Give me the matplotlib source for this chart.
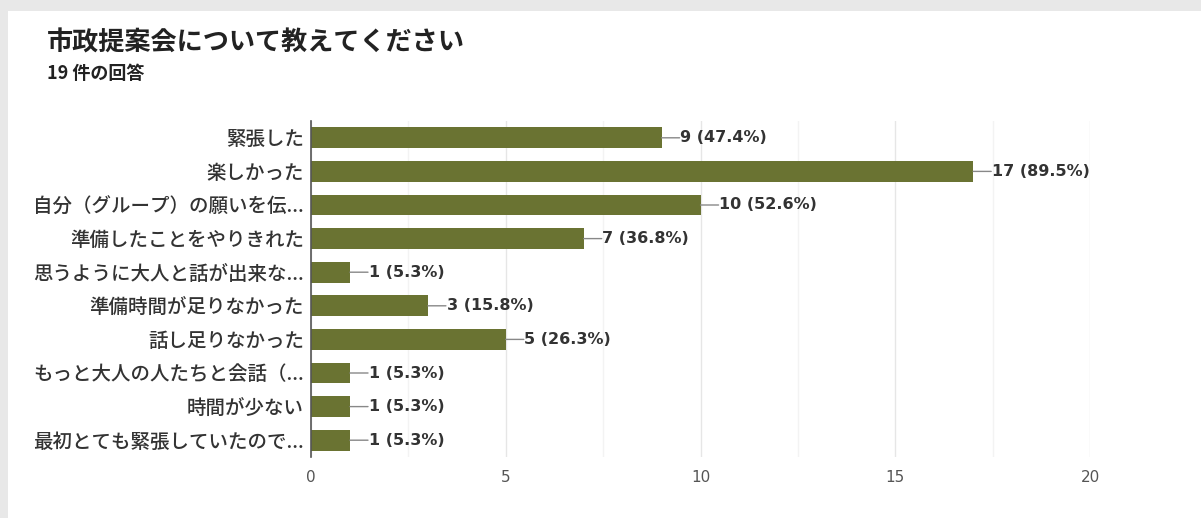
import matplotlib
matplotlib.use("Agg")
import matplotlib.pyplot as plt
from matplotlib.patches import Rectangle
from matplotlib.ticker import MultipleLocator

plt.rcParams['font.family'] = ['Noto Sans CJK JP', 'DejaVu Sans']

title = "市政提案会について教えてください"
subtitle = "19 件の回答"
categories = [
    "緊張した",
    "楽しかった",
    "自分（グループ）の願いを伝...",
    "準備したことをやりきれた",
    "思うように大人と話が出来な...",
    "準備時間が足りなかった",
    "話し足りなかった",
    "もっと大人の人たちと会話（...",
    "時間が少ない",
    "最初とても緊張していたので...",
]
counts = [9, 17, 10, 7, 1, 3, 5, 1, 1, 1]
percents = [47.4, 89.5, 52.6, 36.8, 5.3, 15.8, 26.3, 5.3, 5.3, 5.3]
xticks = [0, 5, 10, 15, 20]

W, H = 1201, 518
fig = plt.figure(figsize=(W / 100, H / 100), dpi=100)
fig.patch.set_facecolor('#e8e8e8')
fig.patches.append(Rectangle((8 / W, 0), 1 - 8 / W, 1 - 11 / H,
                             transform=fig.transFigure, facecolor='white',
                             edgecolor='none', zorder=-10))

fig.text(47 / W, 1 - 43 / H, title, fontsize=18.8, color='#222222',
         va='center', ha='left', fontweight='bold')
fig.text(47 / W, 1 - 74 / H, subtitle, fontsize=13, color='#222222',
         va='center', ha='left', fontweight='bold')

left, right, top, bottom = 311, 1090, 121, 457
ax = fig.add_axes([left / W, 1 - bottom / H, (right - left) / W, (bottom - top) / H])
ax.set_facecolor('none')
ax.set_zorder(5)

y = list(range(len(categories)))
ax.barh(y, counts, height=0.62, color='#6a7332', zorder=3)
ax.set_ylim(len(categories) - 0.5, -0.5)
ax.set_xlim(0, 20)
ax.set_yticks(y)
ax.set_yticklabels(categories, fontsize=14, color='#333333', fontweight='medium')
ax.set_xticks(xticks)
ax.set_xticklabels([str(t) for t in xticks], fontsize=11, color='#555555',
                   family='DejaVu Sans')
ax.xaxis.set_minor_locator(MultipleLocator(2.5))
ax.tick_params(axis='both', which='both', length=0)
ax.tick_params(axis='x', pad=9)
ax.tick_params(axis='y', pad=5)
ax.grid(axis='x', which='major', color='#e6e6e6', linewidth=1, zorder=0)
ax.grid(axis='x', which='minor', color='#f3f3f3', linewidth=1, zorder=0)
for s in ['top', 'right', 'bottom']:
    ax.spines[s].set_visible(False)
ax.spines['left'].set_color('#555555')
ax.spines['left'].set_linewidth(1.2)
ax.spines['left'].set_zorder(4)

for yi, c, p in zip(y, counts, percents):
    ax.annotate('', xy=(c, yi), xytext=(13, 0), textcoords='offset points',
                arrowprops=dict(arrowstyle='-', color='#888888', lw=1,
                                shrinkA=0, shrinkB=0))
    ax.annotate(f"{c} ({p}%)", xy=(c, yi), xytext=(13.5, 0),
                textcoords='offset points', va='center', ha='left',
                fontsize=11.5, color='#333333', family='DejaVu Sans',
                fontweight='bold')

fig.savefig('out.png', dpi=100, facecolor=fig.get_facecolor())
